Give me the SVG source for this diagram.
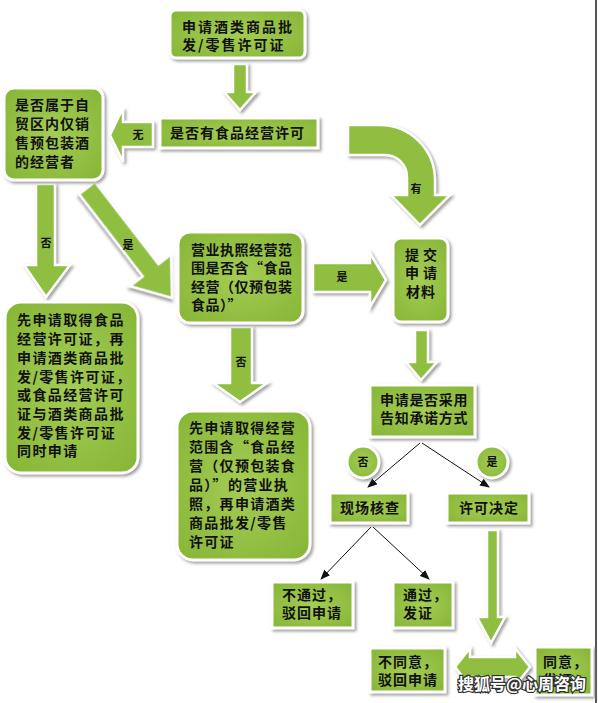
<svg xmlns="http://www.w3.org/2000/svg" width="598" height="703" viewBox="0 0 598 703">
<defs>
<radialGradient id="g" cx="50%" cy="50%" r="70%">
<stop offset="0" stop-color="#a4cc55"/>
<stop offset="1" stop-color="#86b535"/>
</radialGradient>
<filter id="sh" x="-10%" y="-10%" width="130%" height="130%">
<feDropShadow dx="2" dy="2" stdDeviation="1.5" flood-color="#777" flood-opacity="0.7"/>
</filter>
<marker id="ah" markerWidth="10" markerHeight="8" refX="9" refY="4" orient="auto" markerUnits="userSpaceOnUse">
<path d="M0,0 L10,4 L0,8 Z" fill="#111"/>
</marker>
<style>
.box{fill:url(#g);stroke:#fff;stroke-width:3;filter:url(#sh)}
.arr{fill:#8fbe3f;stroke:#fff;stroke-width:2.5;filter:url(#sh)}
.t{font-family:"Noto Sans CJK SC","Noto Sans",sans-serif;font-weight:bold;font-size:14px;fill:#111}
.s{font-family:"Noto Sans CJK SC","Noto Sans",sans-serif;font-weight:bold;font-size:11px;fill:#111;text-anchor:middle}
.c{text-anchor:middle}
.ln{stroke:#111;stroke-width:1;fill:none;marker-end:url(#ah)}
.wm{font-family:"Noto Sans CJK SC",sans-serif;font-weight:bold;font-size:16px;fill:#fff;stroke:#333;stroke-width:2.5;paint-order:stroke}
</style>
</defs>
<rect width="598" height="703" fill="#fff"/>
<line x1="596" y1="0" x2="596" y2="703" stroke="#555" stroke-width="2"/>

<g id="connectors">
<polygon class="arr" points="233,64 247,64 247,92 256,92 240,110 224,92 233,92"/>
<text class="s" x="240" y="89"></text>
<g>
<polygon class="arr" points="153,122 123,122 123,108 110,135 123,162 123,147 153,147"/>
<text class="s" x="138" y="139">无</text>
</g>
<g>
<path class="arr" d="M348,125 L380,125 A55,55 0 0 1 435,180 L435,195 L450,195 L420,225 L391,195 L407,195 L407,177 A22,22 0 0 0 385,155 L348,155 Z"/>
<text class="s" x="416" y="193">有</text>
</g>
<g>
<polygon class="arr" points="36,184 55,184 55,265 70,265 46,297 24,265 36,265"/>
<text class="s" x="46" y="247">否</text>
</g>
<g>
<polygon class="arr" transform="translate(87,188) rotate(52.3)" points="0,-10 104,-10 104,-26 139,0 104,26 104,10 0,10"/>
<text class="s" x="128" y="249">是</text>
</g>
<g>
<polygon class="arr" points="313,263 370,263 370,253 386,280 370,307 370,292 313,292"/>
<text class="s" x="342" y="281">是</text>
</g>
<g>
<polygon class="arr" points="230,327 252,327 252,383 267,383 240,402 213,383 230,383"/>
<text class="s" x="241" y="366">否</text>
</g>
<polygon class="arr" points="415,330 428,330 428,362 437,362 421,380 406,362 415,362"/>
<polygon class="arr" points="487,530 498,530 498,617 505,617 491,643 477,617 487,617"/>
<polygon class="arr" points="455,667 470,648 470,657 515,657 515,648 530,667 515,686 515,677 470,677 470,686"/>
<line class="ln" x1="420" y1="443" x2="368" y2="487"/>
<line class="ln" x1="422" y1="443" x2="489" y2="487"/>
<line class="ln" x1="371" y1="527" x2="321" y2="579"/>
<line class="ln" x1="373" y1="527" x2="429" y2="579"/>
<g>
<circle class="box" cx="363" cy="462" r="16"/>
<text class="s" x="363" y="466">否</text>
</g>
<g>
<circle class="box" cx="492" cy="462" r="16"/>
<text class="s" x="492" y="466">是</text>
</g>
</g>

<g id="n1">
<rect class="box" x="170" y="10" width="135" height="48" rx="6"/>
<text class="t" x="182" y="32" letter-spacing="2">申请酒类商品批</text>
<text class="t" x="182" y="50" letter-spacing="2">发/零售许可证</text>
</g>
<g id="n2">
<rect class="box" x="160" y="118" width="158" height="30"/>
<text class="t" x="170" y="138" letter-spacing="1">是否有食品经营许可</text>
</g>
<g id="n3">
<rect class="box" x="4" y="88" width="99" height="92" rx="10"/>
<text class="t" x="15" y="110" letter-spacing="1">是否属于自</text>
<text class="t" x="15" y="129" letter-spacing="1">贸区内仅销</text>
<text class="t" x="15" y="148" letter-spacing="1">售预包装酒</text>
<text class="t" x="15" y="167" letter-spacing="1">的经营者</text>
</g>
<g id="n4">
<rect class="box" x="5" y="302" width="133" height="171" rx="16"/>
<text class="t" x="17" y="325" letter-spacing="1.4">先申请取得食品</text>
<text class="t" x="17" y="344" letter-spacing="1.4">经营许可证，再</text>
<text class="t" x="17" y="363" letter-spacing="1.4">申请酒类商品批</text>
<text class="t" x="17" y="382" letter-spacing="1.4">发/零售许可证，</text>
<text class="t" x="17" y="400" letter-spacing="1.4">或食品经营许可</text>
<text class="t" x="17" y="419" letter-spacing="1.4">证与酒类商品批</text>
<text class="t" x="17" y="438" letter-spacing="1.4">发/零售许可证</text>
<text class="t" x="17" y="456" letter-spacing="1.4">同时申请</text>
</g>
<g id="n5">
<rect class="box" x="178" y="232" width="125" height="91" rx="12"/>
<text class="t" x="191" y="255" letter-spacing="0.5">营业执照经营范</text>
<text class="t" x="191" y="273" letter-spacing="0.5">围是否含“食品</text>
<text class="t" x="191" y="292" letter-spacing="0.5">经营（仅预包装</text>
<text class="t" x="191" y="310" letter-spacing="0.5">食品）”</text>
</g>
<g id="n6">
<rect class="box" x="177" y="411" width="133" height="149" rx="16"/>
<text class="t" x="189" y="433" letter-spacing="1.3">先申请取得经营</text>
<text class="t" x="189" y="452" letter-spacing="1.3">范围含“食品经</text>
<text class="t" x="189" y="471" letter-spacing="1.3">营（仅预包装食</text>
<text class="t" x="189" y="490" letter-spacing="1.3">品）”的营业执</text>
<text class="t" x="189" y="509" letter-spacing="1.3">照，再申请酒类</text>
<text class="t" x="189" y="528" letter-spacing="1.3">商品批发/零售</text>
<text class="t" x="189" y="547" letter-spacing="1.3">许可证</text>
</g>
<g id="n7">
<rect class="box" x="393" y="238" width="55" height="84" rx="8"/>
<text class="t" x="405" y="260" letter-spacing="4">提交</text>
<text class="t" x="405" y="278" letter-spacing="4">申请</text>
<text class="t" x="406" y="297" letter-spacing="1">材料</text>
</g>
<g id="n8">
<rect class="box" x="370" y="385" width="105" height="52"/>
<text class="t" x="380" y="405" letter-spacing="0.7">申请是否采用</text>
<text class="t" x="380" y="423" letter-spacing="0.7">告知承诺方式</text>
</g>
<g id="n9">
<rect class="box" x="330" y="493" width="78" height="30"/>
<text class="t" x="340" y="513" letter-spacing="1">现场核查</text>
</g>
<g id="n10">
<rect class="box" x="447" y="493" width="82" height="30"/>
<text class="t" x="459" y="513" letter-spacing="1">许可决定</text>
</g>
<g id="n11">
<rect class="box" x="272" y="582" width="81" height="46"/>
<text class="t" x="282" y="600" letter-spacing="1">不通过，</text>
<text class="t" x="282" y="618" letter-spacing="1">驳回申请</text>
</g>
<g id="n12">
<rect class="box" x="393" y="582" width="60" height="46"/>
<text class="t" x="403" y="600" letter-spacing="1">通过，</text>
<text class="t" x="403" y="618" letter-spacing="1">发证</text>
</g>
<g id="n13">
<rect class="box" x="370" y="648" width="75" height="44"/>
<text class="t" x="378" y="667" letter-spacing="1">不同意，</text>
<text class="t" x="378" y="685" letter-spacing="1">驳回申请</text>
</g>
<g id="n14">
<rect class="box" x="535" y="647" width="57" height="48"/>
<text class="t" x="543" y="667" letter-spacing="1">同意，</text>
<text class="t" x="543" y="685" letter-spacing="1">发证</text>
</g>
<text class="wm" x="458" y="690">搜狐号@心周咨询</text>
</svg>
